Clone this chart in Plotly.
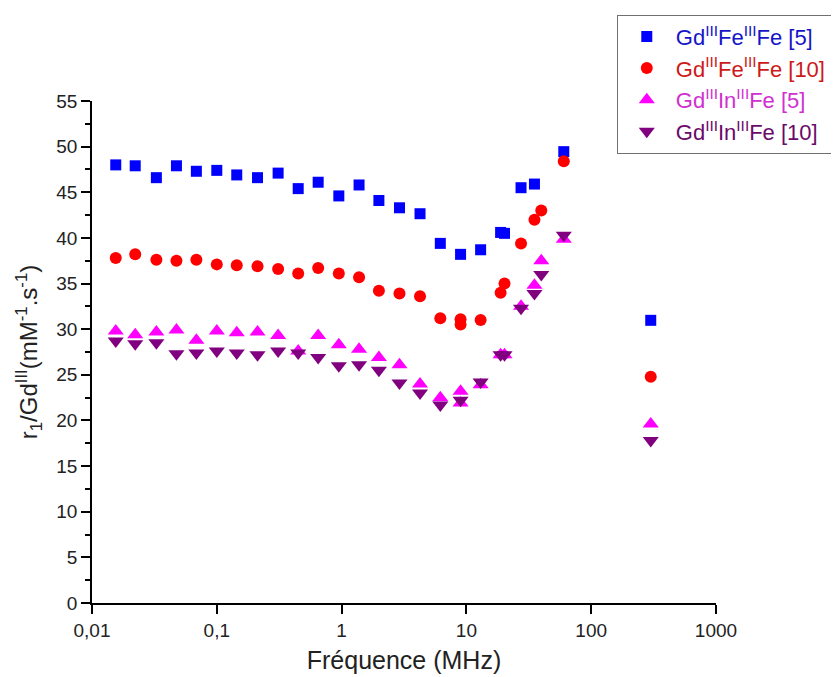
import plotly.graph_objects as go

# ---- data ----
f_b = [0.0155, 0.0222, 0.0328, 0.0475, 0.0686, 0.1, 0.1445, 0.212, 0.31, 0.449, 0.649, 0.95, 1.38, 1.99,
       2.91, 4.25, 6.18, 8.98, 13.0, 18.8, 20.2, 27.4, 35.1, 60.3, 300]
v_b = [48.0, 47.9, 46.6, 47.9, 47.3, 47.4, 46.9, 46.6, 47.1, 45.4, 46.1, 44.6, 45.8, 44.1,
       43.3, 42.65, 39.4, 38.2, 38.7, 40.6, 40.5, 45.5, 45.9, 49.45, 30.97]

f_r = [0.0155, 0.0222, 0.0328, 0.0475, 0.0686, 0.1, 0.1445, 0.212, 0.31, 0.449, 0.649, 0.95, 1.38, 1.99,
       2.91, 4.25, 6.18, 8.98, 8.98, 13.0, 18.8, 20.2, 27.4, 35.1, 39.8, 60.3, 300]
v_r = [37.8, 38.2, 37.6, 37.5, 37.6, 37.1, 37.0, 36.9, 36.6, 36.1, 36.7, 36.1, 35.7, 34.2,
       33.9, 33.6, 31.2, 31.1, 30.5, 31.0, 34.0, 35.0, 39.4, 42.0, 43.0, 48.4, 24.8]

f_m = [0.0155, 0.0222, 0.0328, 0.0475, 0.0686, 0.1, 0.1445, 0.212, 0.31, 0.449, 0.649, 0.95, 1.38, 1.99,
       2.91, 4.25, 6.18, 8.98, 8.98, 13.0, 18.8, 20.2, 27.4, 35.1, 39.8, 60.3, 300]
v_m = [29.8, 29.4, 29.7, 29.9, 28.8, 29.8, 29.6, 29.7, 29.3, 27.6, 29.3, 28.3, 27.8, 26.9,
       26.1, 24.0, 22.5, 23.2, 21.9, 23.9, 27.2, 27.2, 32.5, 34.8, 37.5, 39.85, 19.6]

f_p = [0.0155, 0.0222, 0.0328, 0.0475, 0.0686, 0.1, 0.1445, 0.212, 0.31, 0.449, 0.649, 0.95, 1.38, 1.99,
       2.91, 4.25, 6.18, 8.98, 13.0, 18.8, 20.2, 27.4, 35.1, 39.8, 60.3, 300]
v_p = [28.7, 28.4, 28.5, 27.3, 27.4, 27.6, 27.4, 27.2, 27.6, 27.4, 26.9, 26.0, 26.1, 25.5,
       24.1, 23.0, 21.7, 22.2, 24.2, 27.2, 27.2, 32.3, 33.9, 36.0, 40.3, 17.8]

x_tickvals = [0.01, 0.1, 1, 10, 100, 1000]
x_ticktext = ["0,01", "0,1", "1", "10", "100", "1000"]

FONT = "Liberation Sans, Arial, sans-serif"

series = [
    (f_b, v_b, "square", 11, "#0000FF", "#1515c8", "Gd<sup>III</sup>Fe<sup>III</sup>Fe [5]"),
    (f_r, v_r, "circle", 12, "#FF0000", "#cc1a1a", "Gd<sup>III</sup>Fe<sup>III</sup>Fe [10]"),
    (f_m, v_m, "triangle-up", 14, "#FF00FF", "#d030d0", "Gd<sup>III</sup>In<sup>III</sup>Fe [5]"),
    (f_p, v_p, "triangle-down", 14, "#800080", "#6a0a6a", "Gd<sup>III</sup>In<sup>III</sup>Fe [10]"),
]

fig = go.Figure()
for i, (fx, fy, sym, sz, col, tcol, name) in enumerate(series):
    fig.add_trace(go.Scatter(
        x=fx, y=fy, mode="markers",
        marker=dict(symbol=sym, size=sz, color=col, line=dict(width=0)),
        name=f'<span style="color:{tcol}">{name}</span>',
        cliponaxis=False,
    ))

# The page body adds an 8px offset, so the figure is 8px smaller on each axis.
fig.update_layout(
    width=831, height=669,
    margin=dict(l=84, r=123, t=93, b=74, autoexpand=False),
    paper_bgcolor="white", plot_bgcolor="white",
    font=dict(family=FONT, size=19, color="#222"),
    showlegend=True,
    legend=dict(
        x=0.841, y=1.172, xanchor="left", yanchor="top",
        bordercolor="#707070", borderwidth=1, bgcolor="white",
        font=dict(family=FONT, size=22),
        itemsizing="trace", itemwidth=48,
    ),
    xaxis=dict(
        type="log", range=[-2, 3],
        tickvals=x_tickvals, ticktext=x_ticktext,
        showgrid=False, zeroline=False,
        showline=True, linecolor="black", linewidth=1.5,
        ticks="outside", ticklen=9, tickwidth=1.5, tickcolor="black",
        tickfont=dict(family=FONT, size=19, color="#222"),
        title=dict(text="Fréquence (MHz)", font=dict(family=FONT, size=25, color="#222"), standoff=12),
    ),
    yaxis=dict(
        range=[0, 55], dtick=5, tick0=0,
        showgrid=False, zeroline=False,
        showline=True, linecolor="black", linewidth=1.5,
        ticks="outside", ticklen=9, tickwidth=1.5, tickcolor="black",
        minor=dict(dtick=2.5, ticks="outside", ticklen=5, tickwidth=1.5, tickcolor="black"),
        tickfont=dict(family=FONT, size=19, color="#222"),
        title=dict(text="r<sub>1</sub>/Gd<sup>III</sup>(mM<sup>-1</sup>.s<sup>-1</sup>)",
                   font=dict(family=FONT, size=24, color="#222"), standoff=12),
    ),
)

fig.write_html("out.html")
